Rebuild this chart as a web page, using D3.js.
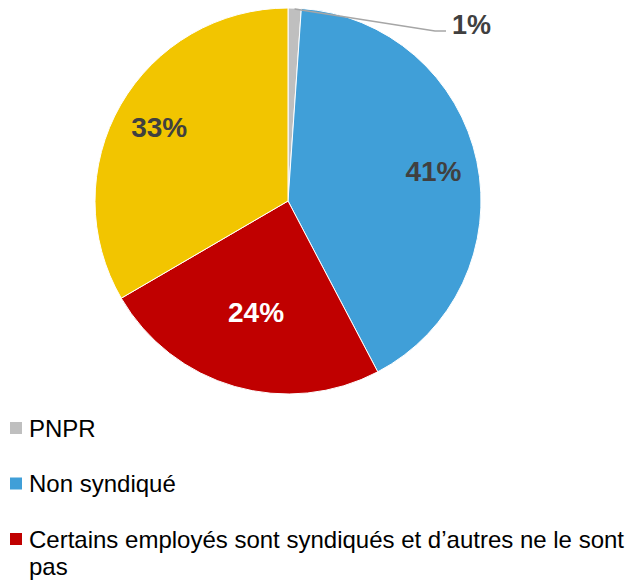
<!DOCTYPE html>
<html>
<head>
<meta charset="utf-8">
<script src="https://cdn.jsdelivr.net/npm/d3@7/dist/d3.min.js"></script>
<style>
body { margin: 0; background: #fff; }
svg { display: block; font-family: "Liberation Sans", Arial, sans-serif; }
</style>
</head>
<body>
<div class="container"></div>
<script>
// chart values
var categories = ['PNPR', 'Non syndiqué', 'Certains employés sont syndiqués et d’autres ne le sont pas', 'Syndiqué'];
var values = [1.1, 41.2, 24.3, 33.4];
var colors = ['#BFBFBF', '#409FD8', '#C00000', '#F2C500'];
var labelColors = ['#404040', '#404040', '#FFFFFF', '#404040'];
var legendCount = 3;

const WIDTH = 630;
const HEIGHT = 580;
const CX = 288;
const CY = 201;
const R = 193;

var svg = d3.select('.container').append('svg')
	.attr('width', WIDTH)
	.attr('height', HEIGHT);

var data = categories.map(function(c, i){
	return {name: c, value: values[i], color: colors[i], labelColor: labelColors[i]};
});

var pie = d3.pie()
	.sort(null)
	.value(function(d){ return d.value; });

var arcs = pie(data);

var arc = d3.arc().innerRadius(0).outerRadius(R);

var g = svg.append('g')
	.attr('transform', 'translate(' + CX + ',' + CY + ')');

g.selectAll('path')
	.data(arcs)
	.enter().append('path')
	.attr('d', arc)
	.attr('fill', function(d){ return d.data.color; })
	.attr('stroke', '#fff')
	.attr('stroke-width', 1);

// label radius, red slice sits closer to centre
var labelR = function(i){ return i == 2 ? 0.6 * R : 0.77 * R; };

arcs.forEach(function(d, i){
	if (i == 0) {
		// small slice: label outside with leader line
		var edge = d3.arc().innerRadius(R - 1).outerRadius(R - 1).centroid(d);
		var pts = [edge, [147, -170], [158, -170]];
		g.append('path')
			.attr('d', d3.line()(pts))
			.attr('fill', 'none')
			.attr('stroke', '#A6A6A6')
			.attr('stroke-width', 1.5);
		g.append('text')
			.attr('x', 164)
			.attr('y', -170)
			.attr('dy', '0.1em')
			.attr('font-size', 27)
			.attr('font-weight', 'bold')
			.attr('fill', d.data.labelColor)
			.text(Math.round(d.data.value) + '%');
		return;
	}
	var c = d3.arc().innerRadius(labelR(i)).outerRadius(labelR(i)).centroid(d);
	g.append('text')
		.attr('x', c[0])
		.attr('y', c[1])
		.attr('dy', '0.36em')
		.attr('text-anchor', 'middle')
		.attr('font-size', 28)
		.attr('font-weight', 'bold')
		.attr('fill', d.data.labelColor)
		.text(Math.round(d.data.value) + '%');
});

// legend
var legend = svg.append('g').attr('transform', 'translate(10,428)');
var maxW = 595;
data.slice(0, legendCount).forEach(function(d, i){
	var row = legend.append('g').attr('transform', 'translate(0,' + (i * 55.5) + ')');
	row.append('rect')
		.attr('x', 0).attr('y', -6)
		.attr('width', 12).attr('height', 12)
		.attr('fill', d.color);
	var t = row.append('text')
		.attr('x', 19)
		.attr('y', 0)
		.attr('dy', '0.36em')
		.attr('font-size', 24)
		.attr('fill', '#000');
	var words = d.name.split(' ');
	var line = [];
	var ts = t.append('tspan').attr('x', 19);
	words.forEach(function(w){
		line.push(w);
		ts.text(line.join(' '));
		if (ts.node().getComputedTextLength() > maxW && line.length > 1) {
			line.pop();
			ts.text(line.join(' '));
			line = [w];
			ts = t.append('tspan').attr('x', 19).attr('dy', '1.15em').text(w);
		}
	});
});
</script>
</body>
</html>
